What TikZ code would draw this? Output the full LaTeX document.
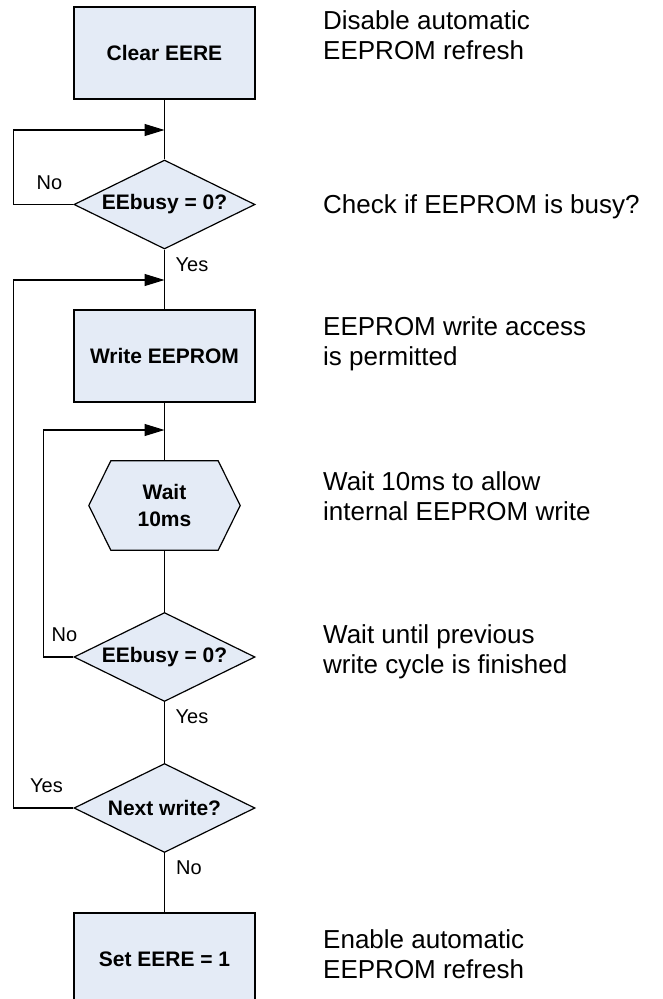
\documentclass[tikz,border=0pt]{standalone}
\usepackage{fontspec}
\setmainfont{Liberation Sans}
\usetikzlibrary{arrows.meta,shapes.geometric,backgrounds}
\definecolor{boxfill}{RGB}{228,235,246}
\tikzset{
  flowline/.style={line width=1.2pt,draw=black},
  arr/.style={flowline,-{Triangle[length=20pt,width=12pt]}},
  procbox/.style={draw=black,line width=1.2pt,fill=boxfill,rectangle,minimum width=181pt,minimum height=92pt,inner sep=0pt,font=\bfseries\fontsize{21}{27}\selectfont,align=center},
  decbox/.style={draw=black,line width=1.2pt,fill=boxfill,diamond,minimum width=181pt,minimum height=89pt,inner sep=0pt},
  dectext/.style={font=\bfseries\fontsize{21}{27}\selectfont,inner sep=0pt},
  hexbox/.style={rectangle,minimum width=151pt,minimum height=89pt,inner sep=0pt,font=\bfseries\fontsize{21}{26.6}\selectfont,align=center},
  lbl/.style={font=\fontsize{20}{24}\selectfont,inner sep=0pt},
  note/.style={anchor=north west,font=\fontsize{26}{30}\selectfont,align=left,inner sep=0pt}
}
\begin{document}
\begin{tikzpicture}[x=1pt,y=-1pt]
\useasboundingbox (0,0) rectangle (662,999);
% nodes
\node[procbox] (clear) at (164.5,53) {Clear EERE};
\node[decbox] (d1) at (164.5,204.5) {};
\node[dectext] (d1t) at (d1) {EEbusy = 0?};
\node[procbox] (write) at (164.5,356) {Write EEPROM};
\node[hexbox] (wait) at (164.5,505.5) {Wait\\10ms};
\begin{scope}[on background layer]
\draw[line width=1.2pt,fill=boxfill] (wait.west) -- ([xshift=22pt]wait.north west) -- ([xshift=-22pt]wait.north east) -- (wait.east) -- ([xshift=-22pt]wait.south east) -- ([xshift=22pt]wait.south west) -- cycle;
\end{scope}
\node[decbox] (d2) at (164.5,657) {};
\node[dectext] (d2t) at (d2) {EEbusy = 0?};
\node[decbox] (d3) at (164.5,808) {};
\node[dectext] (d3t) at (d3) {Next write?};
\node[procbox] (set) at (164.5,959) {Set EERE = 1};
% junctions
\coordinate (j1) at (164.5,130);
\coordinate (j2) at (164.5,280);
\coordinate (j3) at (164.5,430);
% connectors
\draw[flowline] (clear.south) -- (d1.north);
\draw[flowline] (d1.south) -- (write.north);
\draw[flowline] (write.south) -- (wait.north);
\draw[flowline] (wait.south) -- (d2.north);
\draw[flowline] (d2.south) -- (d3.north);
\draw[flowline] (d3.south) -- (set.north);
\draw[arr] (d1.west) -- ++(-60,0) |- (j1);
\draw[arr] (d3.west) -- ++(-60,0) |- (j2);
\draw[arr] (d2.west) -- ++(-30,0) |- (j3);
% labels
\node[lbl] (l1) at (49.5,183) {No};
\node[lbl] (l2) at (192,265) {Yes};
\node[lbl] (l3) at (64.5,634.5) {No};
\node[lbl] (l4) at (192,716.5) {Yes};
\node[lbl] (l5) at (46.5,785.5) {Yes};
\node[lbl] (l6) at (189,867.5) {No};
% notes
\node[note] (n1) at (323,10) {Disable automatic\\EEPROM refresh};
\node[note] (n2) at (323,194) {Check if EEPROM is busy?};
\node[note] (n3) at (323,316) {EEPROM write access\\is permitted};
\node[note] (n4) at (323,471) {Wait 10ms to allow\\internal EEPROM write};
\node[note] (n5) at (323,624) {Wait until previous\\write cycle is finished};
\node[note] (n6) at (323,929) {Enable automatic\\EEPROM refresh};
\end{tikzpicture}
\end{document}
